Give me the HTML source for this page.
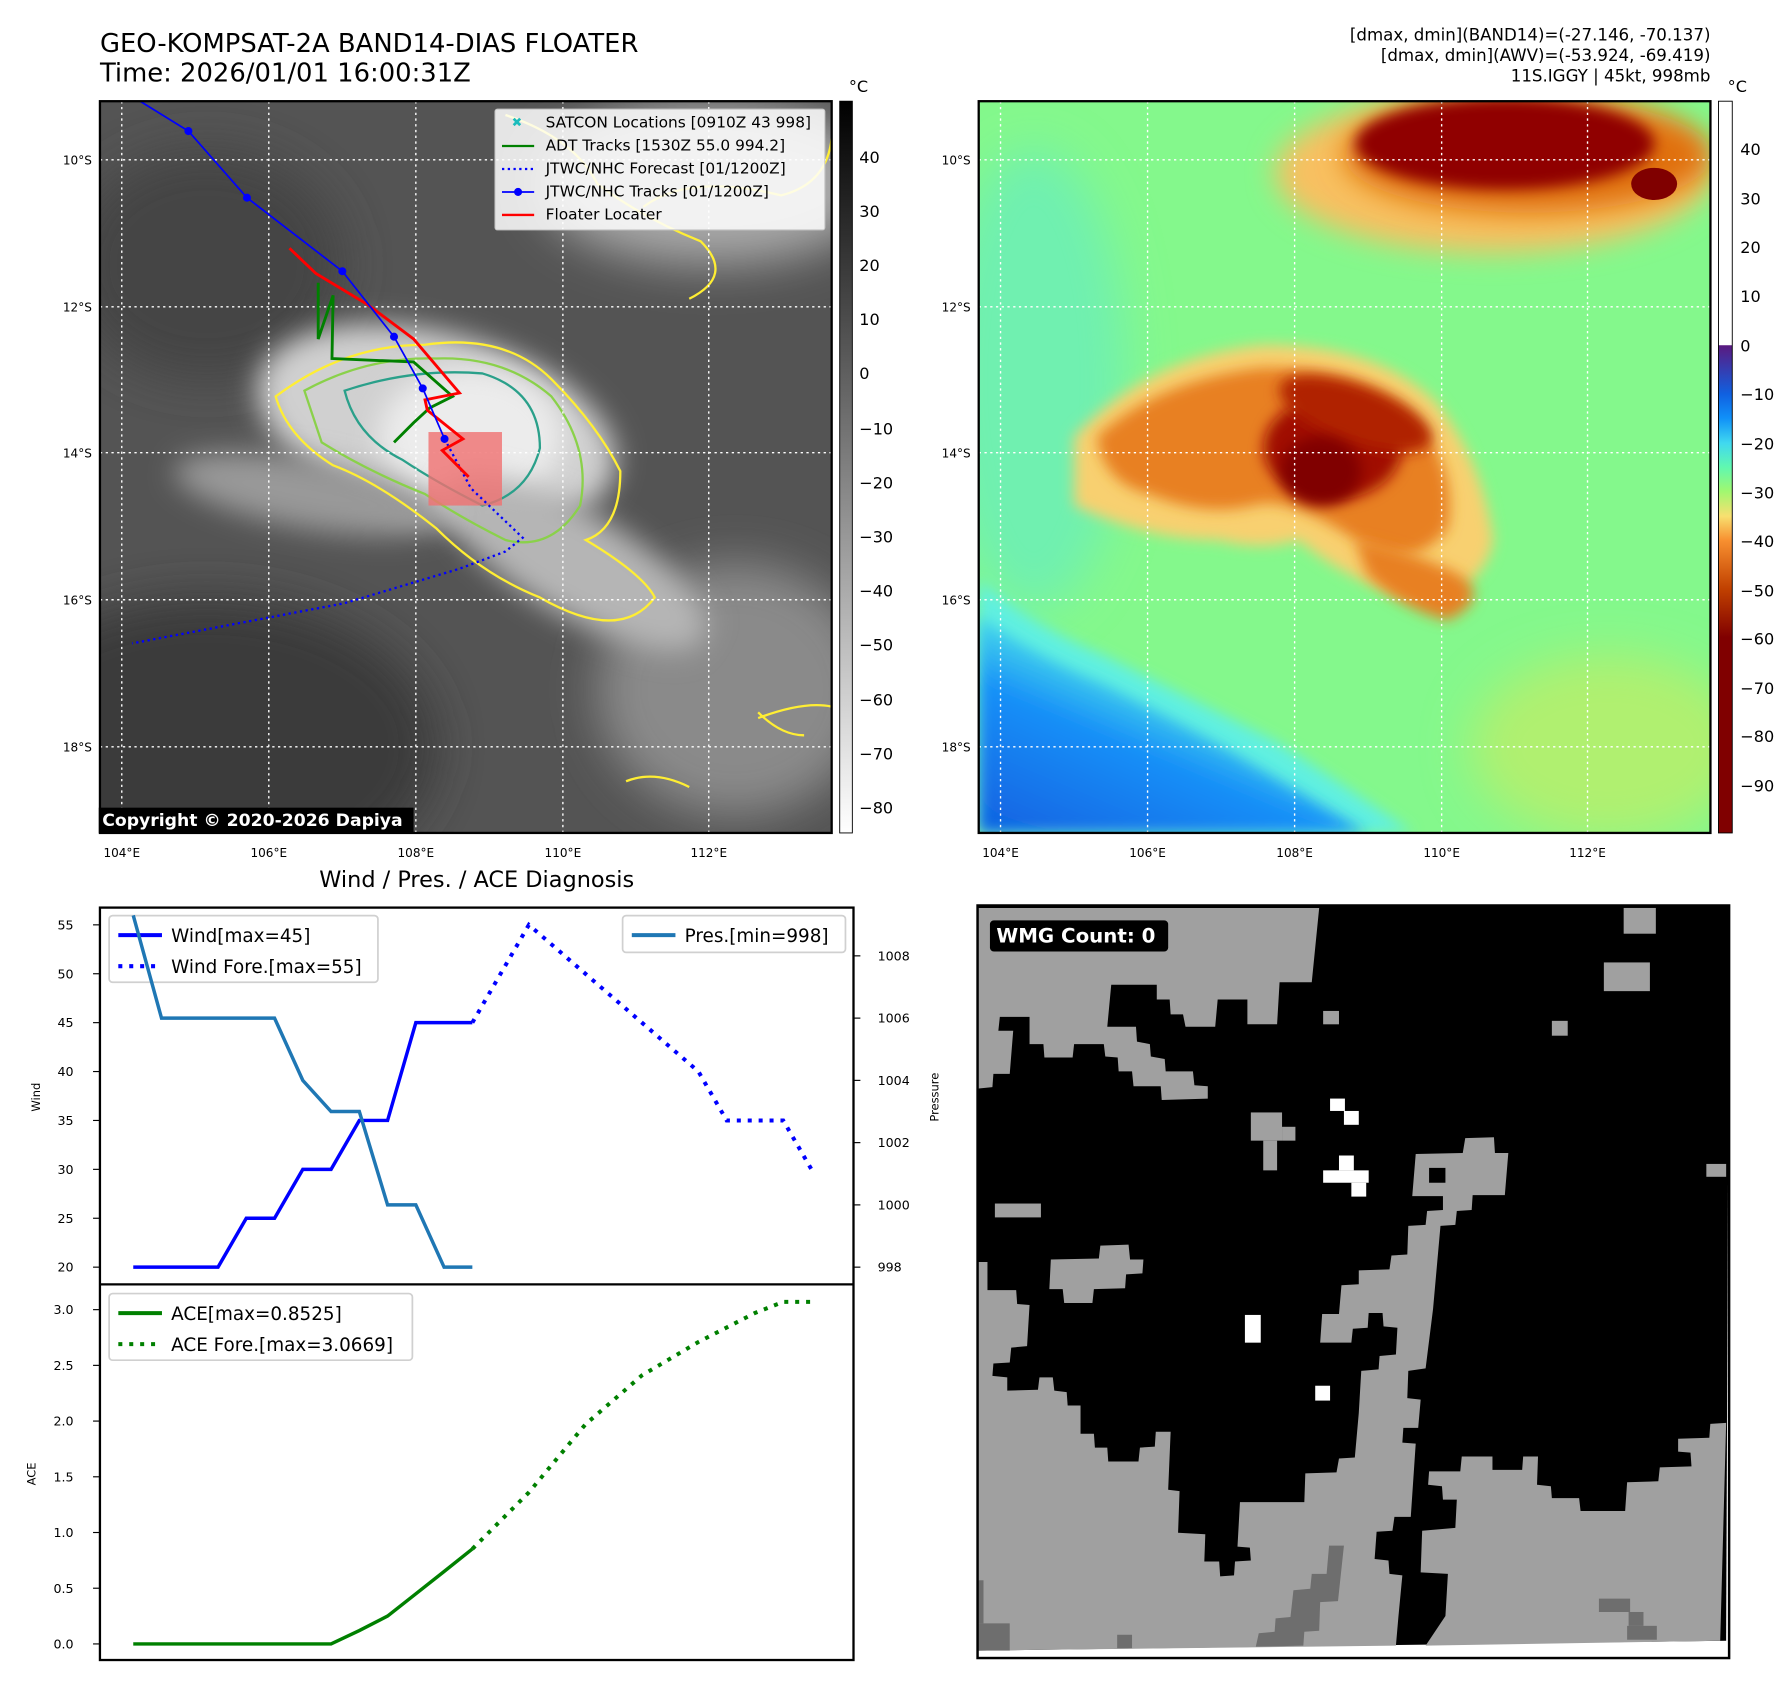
<!DOCTYPE html>
<html><head><meta charset="utf-8"><style>
html,body{margin:0;padding:0;background:#fff}
svg{display:block}
text{font-family:"DejaVu Sans","Liberation Sans",sans-serif}
</style></head><body>
<svg id="root" width="1792" height="1690" viewBox="0 0 1560 1471" xmlns="http://www.w3.org/2000/svg">
<defs>
<filter id="b6" x="-50%" y="-50%" width="200%" height="200%"><feGaussianBlur stdDeviation="6"/></filter>
<filter id="b12" x="-50%" y="-50%" width="200%" height="200%"><feGaussianBlur stdDeviation="12"/></filter>
<filter id="b20" x="-50%" y="-50%" width="200%" height="200%"><feGaussianBlur stdDeviation="20"/></filter>
<clipPath id="c1"><rect x="87" y="88" width="637" height="637"/></clipPath>
<clipPath id="c2"><rect x="852" y="88" width="637" height="637"/></clipPath>
<linearGradient id="gcb1" x1="0" y1="0" x2="0" y2="1"><stop offset="0" stop-color="#000"/><stop offset="1" stop-color="#fff"/></linearGradient>
<linearGradient id="gcb2" x1="0" y1="0" x2="0" y2="1">
<stop offset="0" stop-color="#fff"/><stop offset="0.333" stop-color="#fff"/>
<stop offset="0.334" stop-color="#5a1a80"/><stop offset="0.4" stop-color="#1060e0"/>
<stop offset="0.433" stop-color="#1090f8"/><stop offset="0.467" stop-color="#40d8f0"/>
<stop offset="0.5" stop-color="#60f8b0"/><stop offset="0.533" stop-color="#a0f870"/>
<stop offset="0.567" stop-color="#f8e070"/><stop offset="0.6" stop-color="#f89030"/>
<stop offset="0.667" stop-color="#c04000"/><stop offset="0.733" stop-color="#800000"/>
<stop offset="1" stop-color="#800000"/></linearGradient>
<linearGradient id="gblue" x1="0" y1="1" x2="0.6" y2="0.2">
<stop offset="0" stop-color="#1060e0"/><stop offset="0.55" stop-color="#1890f8"/><stop offset="0.85" stop-color="#50e8e8"/><stop offset="1" stop-color="#70f8c0"/></linearGradient>
</defs>

<!-- Titles -->
<text x="87" y="45" font-size="22.5">GEO-KOMPSAT-2A BAND14-DIAS FLOATER</text>
<text x="87" y="71" font-size="22.5">Time: 2026/01/01 16:00:31Z</text>
<g font-size="14.5" text-anchor="end">
<text x="1489" y="35">[dmax, dmin](BAND14)=(-27.146, -70.137)</text>
<text x="1489" y="53">[dmax, dmin](AWV)=(-53.924, -69.419)</text>
<text x="1489" y="71">11S.IGGY | 45kt, 998mb</text>
</g>

<!-- MAP 1 -->
<g clip-path="url(#c1)">
<rect x="87" y="88" width="637" height="637" fill="#545454"/>
<ellipse cx="180" cy="650" rx="200" ry="130" fill="#3a3a3a" filter="url(#b20)"/>
<ellipse cx="180" cy="230" rx="120" ry="100" fill="#444" filter="url(#b20)"/>
<ellipse cx="620" cy="160" rx="150" ry="70" fill="#a8a8a8" filter="url(#b20)"/>
<ellipse cx="640" cy="600" rx="120" ry="110" fill="#8a8a8a" filter="url(#b20)"/>
<ellipse cx="380" cy="370" rx="160" ry="80" transform="rotate(15 380 370)" fill="#d0d0d0" filter="url(#b12)"/>
<ellipse cx="410" cy="380" rx="80" ry="60" fill="#ececec" filter="url(#b12)"/>
<ellipse cx="500" cy="490" rx="130" ry="45" transform="rotate(30 500 490)" fill="#b5b5b5" filter="url(#b12)"/>
<ellipse cx="270" cy="430" rx="120" ry="30" transform="rotate(10 270 430)" fill="#999" filter="url(#b12)"/>
<path d="M240 345 Q300 300 370 300 Q440 290 480 330 Q520 370 540 410 Q540 460 510 470 Q560 500 570 520 Q540 560 470 520 Q420 500 380 460 Q330 420 290 405 Q250 380 240 345Z" fill="none" stroke="#ffee33" stroke-width="2"/>
<path d="M265 340 Q320 310 380 312 Q440 310 480 345 Q515 390 505 440 Q480 480 440 470 Q400 450 370 430 Q320 410 280 385 Z" fill="none" stroke="#8ad14a" stroke-width="2"/>
<path d="M300 340 Q360 320 420 325 Q470 340 470 390 Q460 430 420 440 Q380 420 350 400 Q310 380 300 340Z" fill="none" stroke="#2aa08a" stroke-width="2"/>
<path d="M440 100 Q500 120 520 160 Q560 190 610 210 Q640 240 600 260 M560 180 Q600 150 680 170 Q720 160 724 120" fill="none" stroke="#ffee33" stroke-width="2"/>
<path d="M660 625 Q700 610 724 615 M660 620 Q680 640 700 640" fill="none" stroke="#ffee33" stroke-width="2"/>
<path d="M545 680 Q570 670 600 685" fill="none" stroke="#ffee33" stroke-width="2"/>
<g stroke="#fff" stroke-width="1.2" stroke-dasharray="2,3">
<line x1="106" y1="88" x2="106" y2="725"/><line x1="234" y1="88" x2="234" y2="725"/><line x1="362" y1="88" x2="362" y2="725"/><line x1="490" y1="88" x2="490" y2="725"/><line x1="617" y1="88" x2="617" y2="725"/>
<line x1="87" y1="139" x2="724" y2="139"/><line x1="87" y1="267" x2="724" y2="267"/><line x1="87" y1="394" x2="724" y2="394"/><line x1="87" y1="522" x2="724" y2="522"/><line x1="87" y1="650" x2="724" y2="650"/>
</g>
<rect x="373" y="376" width="64" height="64" fill="#f07070" fill-opacity="0.8"/>
<polyline points="387,382 410,425 455,468 440,480 400,495 300,525 115,560" fill="none" stroke="#0000ff" stroke-width="2" stroke-dasharray="2,3"/>
<polyline points="277,246 277,295 290,257 289,312 360,315 394,345 374,355 360,368 343,385" fill="none" stroke="#008000" stroke-width="2.5"/>
<polyline points="252,216 275,238 320,265 360,295 400,342 370,348 372,357 403,382 385,392 408,415" fill="none" stroke="#ff0000" stroke-width="2.5"/>
<polyline points="122,88 164,114 215,172 298,236 343,293 368,338 387,382" fill="none" stroke="#0000ff" stroke-width="1.5"/>
<g fill="#0000ff"><circle cx="164" cy="114" r="3.5"/><circle cx="215" cy="172" r="3.5"/><circle cx="298" cy="236" r="3.5"/><circle cx="343" cy="293" r="3.5"/><circle cx="368" cy="338" r="3.5"/><circle cx="387" cy="382" r="3.5"/></g>
</g>
<rect x="87" y="88" width="637" height="637" fill="none" stroke="#000" stroke-width="2"/>
<g>
<rect x="431" y="95" width="287" height="105" fill="#fff" fill-opacity="0.85" stroke="#ccc" rx="2"/>
<g font-size="13.4">
<text x="450" y="110" fill="#1bbcbc" font-size="11" text-anchor="middle">✖</text><text x="475" y="111">SATCON Locations [0910Z 43 998]</text>
<line x1="437" y1="127" x2="465" y2="127" stroke="#008000" stroke-width="2"/><text x="475" y="131">ADT Tracks [1530Z 55.0 994.2]</text>
<line x1="437" y1="147" x2="465" y2="147" stroke="#0000ff" stroke-width="2" stroke-dasharray="2,3"/><text x="475" y="151">JTWC/NHC Forecast [01/1200Z]</text>
<line x1="437" y1="167" x2="465" y2="167" stroke="#0000ff" stroke-width="1.5"/><circle cx="451" cy="167" r="3.5" fill="#0000ff"/><text x="475" y="171">JTWC/NHC Tracks [01/1200Z]</text>
<line x1="437" y1="187" x2="465" y2="187" stroke="#ff0000" stroke-width="2"/><text x="475" y="191">Floater Locater</text>
</g></g>
<g><rect x="86" y="703" width="274" height="22" fill="#000"/><text x="89" y="719" font-size="15" font-weight="bold" fill="#fff">Copyright © 2020-2026 Dapiya</text></g>
<g font-size="10.5">
<g text-anchor="end"><text x="80" y="143">10°S</text><text x="80" y="271">12°S</text><text x="80" y="398">14°S</text><text x="80" y="526">16°S</text><text x="80" y="654">18°S</text></g>
<g text-anchor="middle"><text x="106" y="746">104°E</text><text x="234" y="746">106°E</text><text x="362" y="746">108°E</text><text x="490" y="746">110°E</text><text x="617" y="746">112°E</text></g>
</g>
<g>
<rect x="731" y="88" width="11" height="637" fill="url(#gcb1)" stroke="#000" stroke-width="0.8"/>
<text x="739" y="80" font-size="14">°C</text>
<g font-size="14">
<text x="748" y="142">40</text><text x="748" y="189">30</text><text x="748" y="236">20</text><text x="748" y="283">10</text><text x="748" y="330">0</text><text x="748" y="378">−10</text><text x="748" y="425">−20</text><text x="748" y="472">−30</text><text x="748" y="519">−40</text><text x="748" y="566">−50</text><text x="748" y="614">−60</text><text x="748" y="661">−70</text><text x="748" y="708">−80</text>
</g></g>

<!-- MAP 2 -->
<g clip-path="url(#c2)">
<rect x="852" y="88" width="637" height="637" fill="#84f88c"/>
<ellipse cx="900" cy="330" rx="80" ry="200" fill="#70f0b0" filter="url(#b20)"/>
<ellipse cx="1400" cy="650" rx="120" ry="80" fill="#b0f070" filter="url(#b20)"/>
<path d="M852 505 Q900 545 960 570 Q1040 610 1110 645 Q1180 690 1230 725 L852 725Z" fill="#60f0e0" filter="url(#b6)"/>
<path d="M852 535 Q900 570 960 595 Q1040 635 1090 665 Q1150 700 1190 725 L852 725Z" fill="url(#gblue)" filter="url(#b6)"/>
<ellipse cx="1300" cy="150" rx="190" ry="70" fill="#f8c060" filter="url(#b12)"/>
<ellipse cx="1330" cy="135" rx="160" ry="50" fill="#e07010" filter="url(#b12)"/>
<ellipse cx="1310" cy="125" rx="130" ry="40" fill="#900000" filter="url(#b6)"/>
<ellipse cx="1440" cy="160" rx="20" ry="14" fill="#800000"/>
<path d="M935 380 Q1000 310 1100 300 Q1200 300 1250 350 Q1290 400 1300 470 Q1290 520 1230 520 Q1180 510 1130 470 Q1100 480 1060 470 Q1000 470 935 440Z" fill="#f8d070" filter="url(#b6)"/>
<path d="M955 380 Q1010 330 1100 320 Q1190 320 1230 360 Q1270 410 1260 460 Q1230 500 1180 470 Q1120 430 1090 440 Q1050 450 1000 430 Q960 420 955 380Z" fill="#e88020" filter="url(#b6)"/>
<path d="M1180 470 Q1230 480 1270 500 Q1300 520 1260 540 Q1220 530 1190 500Z" fill="#e88020" filter="url(#b6)"/>
<ellipse cx="1160" cy="390" rx="60" ry="45" fill="#a01000" filter="url(#b6)"/>
<ellipse cx="1180" cy="360" rx="70" ry="25" transform="rotate(20 1180 360)" fill="#b02000" filter="url(#b6)"/>
<ellipse cx="1150" cy="410" rx="35" ry="30" fill="#800000" filter="url(#b6)"/>
<g stroke="#fff" stroke-width="1.2" stroke-dasharray="2,3">
<line x1="871" y1="88" x2="871" y2="725"/><line x1="999" y1="88" x2="999" y2="725"/><line x1="1127" y1="88" x2="1127" y2="725"/><line x1="1255" y1="88" x2="1255" y2="725"/><line x1="1382" y1="88" x2="1382" y2="725"/>
<line x1="852" y1="139" x2="1489" y2="139"/><line x1="852" y1="267" x2="1489" y2="267"/><line x1="852" y1="394" x2="1489" y2="394"/><line x1="852" y1="522" x2="1489" y2="522"/><line x1="852" y1="650" x2="1489" y2="650"/>
</g>
</g>
<rect x="852" y="88" width="637" height="637" fill="none" stroke="#000" stroke-width="2"/>
<g font-size="10.5">
<g text-anchor="end"><text x="845" y="143">10°S</text><text x="845" y="271">12°S</text><text x="845" y="398">14°S</text><text x="845" y="526">16°S</text><text x="845" y="654">18°S</text></g>
<g text-anchor="middle"><text x="871" y="746">104°E</text><text x="999" y="746">106°E</text><text x="1127" y="746">108°E</text><text x="1255" y="746">110°E</text><text x="1382" y="746">112°E</text></g>
</g>
<g>
<rect x="1496" y="88" width="12" height="637" fill="url(#gcb2)" stroke="#000" stroke-width="0.8"/>
<text x="1504" y="80" font-size="14">°C</text>
<g font-size="14">
<text x="1515" y="135">40</text><text x="1515" y="178">30</text><text x="1515" y="220">20</text><text x="1515" y="263">10</text><text x="1515" y="306">0</text><text x="1515" y="348">−10</text><text x="1515" y="391">−20</text><text x="1515" y="434">−30</text><text x="1515" y="476">−40</text><text x="1515" y="519">−50</text><text x="1515" y="561">−60</text><text x="1515" y="604">−70</text><text x="1515" y="646">−80</text><text x="1515" y="689">−90</text>
</g></g>

<!-- WMG map -->
<g transform="translate(851,786) scale(0.431)">
<rect x="0" y="5" width="1518" height="1520" fill="#fff"/>
<polygon points="0,5 1518,5 1512,1490 0,1510" fill="#000"/>
<g fill="#a0a0a0">
<polygon points="0,10 690,10 675,160 610,160 605,245 545,245 545,195 485,195 480,250 420,250 415,225 390,225 388,195 362,195 362,165 270,165 262,250 320,250 322,280 348,285 350,310 378,315 380,340 435,340 438,368 465,370 465,395 372,398 370,370 315,370 312,340 285,340 283,312 258,310 255,285 195,285 192,312 135,312 133,285 105,285 105,230 45,230 42,258 72,258 65,345 32,345 30,372 0,375"/>
<rect x="1305" y="10" width="65" height="52"/><rect x="1265" y="120" width="93" height="58"/><rect x="698" y="218" width="32" height="27"/><rect x="1160" y="238" width="32" height="30"/><rect x="1472" y="527" width="40" height="26"/><rect x="35" y="607" width="93" height="28"/>
<rect x="552" y="423" width="63" height="57"/><rect x="615" y="452" width="27" height="28"/><rect x="577" y="480" width="28" height="60"/>
<polygon points="148,720 245,718 248,692 305,690 308,720 335,720 333,748 300,750 298,778 235,780 232,808 175,808 172,780 145,780"/>
<polygon points="0,725 20,725 20,782 78,782 80,810 105,812 100,895 68,898 65,928 32,930 30,955 60,958 60,985 122,983 125,958 152,958 155,985 180,988 182,1015 208,1015 208,1072 235,1072 237,1100 262,1100 264,1128 325,1128 328,1100 358,1098 360,1068 390,1068 385,1185 408,1188 405,1272 460,1275 458,1330 488,1330 490,1360 518,1358 520,1330 552,1328 550,1302 525,1300 530,1210 660,1210 662,1152 725,1150 730,1122 762,1120 770,1030 775,945 810,942 812,915 845,912 848,858 820,855 818,828 790,828 788,858 758,860 755,888 692,888 696,830 730,830 735,772 770,770 770,742 832,740 836,712 868,710 870,652 905,650 908,622 940,620 940,592 878,592 885,507 980,505 985,475 1043,473 1045,505 1072,505 1065,590 1000,590 998,620 968,622 965,650 935,652 920,820 905,940 870,945 868,1000 895,1003 890,1060 860,1060 858,1090 885,1092 875,1240 842,1240 838,1268 806,1270 802,1325 830,1328 832,1355 858,1358 850,1442 845,1500 0,1510"/>
<polygon points="905,1500 945,1440 950,1355 895,1352 898,1268 965,1262 968,1205 940,1205 938,1178 910,1175 912,1148 975,1148 978,1118 1040,1118 1040,1145 1100,1145 1102,1118 1132,1118 1130,1175 1158,1178 1160,1202 1215,1202 1218,1228 1308,1228 1312,1170 1375,1168 1378,1140 1442,1138 1440,1110 1415,1108 1415,1082 1478,1080 1480,1052 1512,1050 1500,1490"/>
</g>
<rect x="912" y="535" width="33" height="30" fill="#000"/>
<g fill="#6e6e6e">
<polygon points="710,1298 740,1298 728,1410 692,1412 690,1470 660,1472 658,1500 562,1502 568,1475 600,1472 602,1445 632,1442 638,1388 672,1385 675,1355 705,1355"/>
<rect x="1255" y="1405" width="63" height="27"/><rect x="1315" y="1432" width="30" height="28"/><rect x="1312" y="1460" width="60" height="28"/>
<rect x="0" y="1368" width="12" height="87"/><rect x="0" y="1455" width="65" height="55"/><rect x="282" y="1478" width="30" height="27"/>
</g>
<g fill="#fff">
<rect x="712" y="395" width="30" height="25"/><rect x="740" y="420" width="30" height="28"/>
<rect x="698" y="540" width="92" height="25"/><rect x="730" y="510" width="30" height="30"/><rect x="755" y="565" width="30" height="28"/>
<rect x="540" y="832" width="32" height="56"/><rect x="682" y="975" width="30" height="30"/>
</g>
<rect x="0" y="5" width="1518" height="1520" fill="none" stroke="#000" stroke-width="5"/>
<rect x="25" y="35" width="360" height="63" rx="8" fill="#000"/>
<text x="38" y="80" font-size="40" font-weight="bold" fill="#fff">WMG Count: 0</text>
</g>

<!-- Bottom-left chart -->
<text x="415" y="772" font-size="19.5" text-anchor="middle">Wind / Pres. / ACE Diagnosis</text>
<g id="chart"></g>
</svg>
<script>
const windIdx=[0,1,2,3,4,5,6,7,8,9,10,11,12];
const windVals=[20,20,20,20,25,25,30,30,35,35,45,45,45];
const windForeIdx=[12,14,20,21,23,24];
const windForeVals=[45,55,40,35,35,30];
const presVals=[1009.3,1006,1006,1006,1006,1006,1004,1003,1003,1000,1000,998,998];
const aceVals=[0,0,0,0,0,0,0,0,0.12,0.25,0.45,0.65,0.8525];
const aceForeIdx=[12,14,16,18,20,22,23,24];
const aceForeVals=[0.8525,1.36,1.97,2.41,2.71,2.97,3.07,3.07];
const windTicks=[20,25,30,35,40,45,50,55];
const presTicks=[998,1000,1002,1004,1006,1008];
const aceTicks=[0,0.5,1.0,1.5,2.0,2.5,3.0];

const NS='http://www.w3.org/2000/svg';
const g=document.getElementById('chart');
const X=i=>116+i*24.6;
const YW=v=>1103-(v-20)*8.514;
const YP=v=>1103-(v-998)*27.1;
const YA=v=>1431-v*97;
function mk(tag,attrs,parent){const e=document.createElementNS(NS,tag);for(const k in attrs)e.setAttribute(k,attrs[k]);(parent||g).appendChild(e);return e;}
function pts(xs,ys,f){return xs.map((x,i)=>X(x)+','+f(ys[i])).join(' ');}

let fr=mk('rect',{x:87,y:790,width:656,height:655,fill:'#fff',stroke:'#000','stroke-width':2});


let dv=mk('line',{x1:87,y1:1118,x2:743,y2:1118,stroke:'#000','stroke-width':2});



windTicks.forEach(t=>{
 const l=mk('line',{x1:81,x2:87,y1:YW(t),y2:YW(t),stroke:'#000'});
 
 
 const tx=mk('text',{x:64,y:YW(t)+4,'font-size':11,'text-anchor':'end'});tx.textContent=t;
 
 
});
presTicks.forEach(t=>{
 const l=mk('line',{x1:743,x2:749,y1:YP(t),y2:YP(t),stroke:'#000'});
 
 
 const tx=mk('text',{x:764,y:YP(t)+4,'font-size':11});tx.textContent=t;
 
 
});
aceTicks.forEach(t=>{
 const l=mk('line',{x1:81,x2:87,y1:YA(t),y2:YA(t),stroke:'#000'});
 
 
 const tx=mk('text',{x:64,y:YA(t)+4,'font-size':11,'text-anchor':'end'});tx.textContent=t.toFixed(1);
 
 
});
let yl=mk('text',{x:35,y:955,'font-size':10,'text-anchor':'middle',transform:'rotate(-90 35 955)'});yl.textContent='Wind';


let pl=mk('text',{x:817,y:955,'font-size':10,'text-anchor':'middle',transform:'rotate(-90 817 955)'});pl.textContent='Pressure';


let al=mk('text',{x:31,y:1283,'font-size':10,'text-anchor':'middle',transform:'rotate(-90 31 1283)'});al.textContent='ACE';



function legend(name,x,y,w,h,items){
 const lg=mk('g',{});
 
 
 mk('rect',{x:x,y:y,width:w,height:h,rx:3,fill:'#fff',stroke:'#d0d0d0','stroke-width':1.5},lg);
 items.forEach((it,i)=>{
  const cy=y+17+i*27;
  const a={x1:x+8,x2:x+46,y1:cy,y2:cy,stroke:it.c,'stroke-width':3.5};
  if(it.d)a['stroke-dasharray']='3.5,6';
  mk('line',a,lg);
  const t=mk('text',{x:x+54,y:cy+6,'font-size':16},lg);t.textContent=it.t;
 });
}
legend('wind-legend',95,797,234,58,[{c:'#0000ff',t:'Wind[max=45]'},{c:'#0000ff',t:'Wind Fore.[max=55]',d:1}]);

let wl=mk('polyline',{points:pts(windIdx,windVals,YW),fill:'none',stroke:'#0000ff','stroke-width':3});


let wf=mk('polyline',{points:pts(windForeIdx,windForeVals,YW),fill:'none',stroke:'#0000ff','stroke-width':3.5,'stroke-dasharray':'3.5,6'});


let pr=mk('polyline',{points:pts(windIdx,presVals,YP),fill:'none',stroke:'#1f77b4','stroke-width':3});


let ac=mk('polyline',{points:pts(windIdx,aceVals,YA),fill:'none',stroke:'#008000','stroke-width':3});


let af=mk('polyline',{points:pts(aceForeIdx,aceForeVals,YA),fill:'none',stroke:'#008000','stroke-width':3.5,'stroke-dasharray':'3.5,6'});



legend('pressure-legend',542,797,194,32,[{c:'#1f77b4',t:'Pres.[min=998]'}]);
legend('ace-legend',95,1126,264,58,[{c:'#008000',t:'ACE[max=0.8525]'},{c:'#008000',t:'ACE Fore.[max=3.0669]',d:1}]);
</script>
</body></html>
